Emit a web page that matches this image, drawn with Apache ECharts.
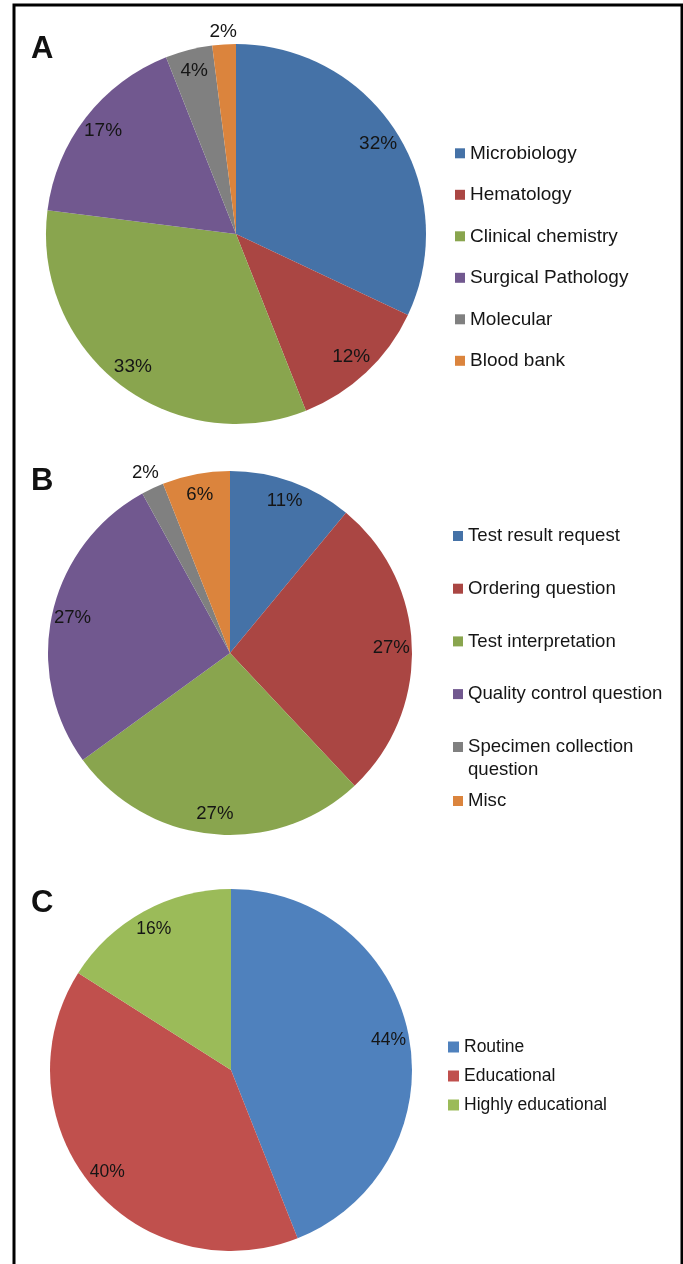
<!DOCTYPE html>
<html>
<head>
<meta charset="utf-8">
<script src="https://cdn.jsdelivr.net/npm/echarts@6/dist/echarts.min.js"></script>
<style>
  html, body { margin: 0; padding: 0; background: #ffffff; }
  #chart { width: 683px; height: 1264px; }
</style>
</head>
<body>
<div id="chart"></div>
<script>
// Panel A: consultations by laboratory section (percent)
const sectionNames = ['Microbiology', 'Hematology', 'Clinical chemistry', 'Surgical Pathology', 'Molecular', 'Blood bank'];
const sectionValues = [32, 12, 33, 17, 4, 2];
const sectionOutside = ['Blood bank'];

// Panel B: type of question (percent)
const questionNames = ['Test result request', 'Ordering question', 'Test interpretation', 'Quality control question', 'Specimen collection question', 'Misc'];
const questionValues = [11, 27, 27, 27, 2, 6];
const questionOutside = ['Specimen collection question'];

// Panel C: educational value (percent)
const valueNames = ['Routine', 'Educational', 'Highly educational'];
const valueValues = [44, 40, 16];
const valueOutside = [];

const darkPalette = ['#4572A7', '#AA4643', '#89A54E', '#71588F', '#808080', '#DB843D'];
const lightPalette = ['#4F81BD', '#C0504D', '#9BBB59'];

const FONT = "'Liberation Sans', Arial, Helvetica, sans-serif";
const TEXT = '#151515';
const INSIDE_RATIO = 0.87;   // label distance from centre, as a share of radius

// One visible pie plus two invisible pies that only carry the percentage
// labels; an inside label sits at half of a pie's radius, so the invisible
// pies are sized to put the labels where they belong.
function pieSeries(names, values, colors, cx, cy, r, outside, outsideRatio, fontSize) {
  const labelStyle = {
    position: 'inside',
    formatter: p => p.value + '%',
    color: TEXT,
    fontSize: fontSize,
    fontFamily: FONT
  };
  const base = {
    type: 'pie',
    center: [cx, cy],
    startAngle: 90,
    clockwise: true,
    avoidLabelOverlap: false,
    animation: false,
    labelLine: { show: false },
    emphasis: { disabled: true }
  };
  const visible = Object.assign({}, base, {
    radius: r,
    silent: true,
    label: { show: false },
    itemStyle: { borderWidth: 0 },
    data: names.map((n, i) => ({ name: n, value: values[i], itemStyle: { color: colors[i] } }))
  });
  const carrier = (ratio, showOutside) => Object.assign({}, base, {
    radius: [0, r * ratio * 2],
    silent: true,
    z: 3,
    label: labelStyle,
    itemStyle: { color: 'rgba(0,0,0,0)', borderWidth: 0 },
    data: names.map((n, i) => ({
      name: n,
      value: values[i],
      label: { show: outside.includes(n) === showOutside }
    }))
  });
  return [visible, carrier(INSIDE_RATIO, false), carrier(outsideRatio, true)];
}

function legend(names, left, top, gap, size, lineHeight, fontSize, extra) {
  return Object.assign({
    data: names,
    orient: 'vertical',
    left: left,
    top: top,
    padding: 0,
    itemGap: gap,
    itemWidth: size,
    itemHeight: size,
    icon: 'rect',
    selectedMode: false,
    itemStyle: { borderWidth: 0 },
    textStyle: { fontSize: fontSize, lineHeight: lineHeight, color: TEXT, fontFamily: FONT }
  }, extra || {});
}

function panelLetter(letter, x, y) {
  return {
    type: 'text',
    x: x,
    y: y,
    style: {
      text: letter,
      fontSize: 31,
      fontWeight: 'bold',
      fontFamily: FONT,
      fill: '#111111',
      align: 'left',
      verticalAlign: 'middle'
    }
  };
}

const chart = echarts.init(document.getElementById('chart'), null, { renderer: 'canvas' });

chart.setOption({
  backgroundColor: '#ffffff',
  animation: false,
  graphic: [
    {
      type: 'rect',
      shape: { x: 14, y: 5, width: 668, height: 1320 },
      style: { fill: 'none', stroke: '#000000', lineWidth: 3 }
    },
    panelLetter('A', 31, 49),
    panelLetter('B', 31, 481.5),
    panelLetter('C', 31, 903)
  ],
  legend: [
    legend(sectionNames, 455, 143.3, 21.5, 10, 20, 19),
    legend(questionNames.slice(0, 4), 453, 524.5, 29.7, 10, 23, 18.6),
    legend([questionNames[4]], 453, 712.5, 0, 10, 23, 18.6, {
      formatter: name => ' \n' + name.replace(' question', '\nquestion')
    }),
    legend([questionNames[5]], 453, 789.5, 0, 10, 23, 18.6),
    legend(valueNames, 448, 1037, 9, 11, 20, 17.5)
  ],
  series: [].concat(
    pieSeries(sectionNames, sectionValues, darkPalette, 236, 234, 190, sectionOutside, 1.05, 19),
    pieSeries(questionNames, questionValues, darkPalette, 230, 653, 182, questionOutside, 1.075, 18.6),
    pieSeries(valueNames, valueValues, lightPalette, 231, 1070, 181, valueOutside, 1.075, 17.5)
  )
});
</script>
</body>
</html>
